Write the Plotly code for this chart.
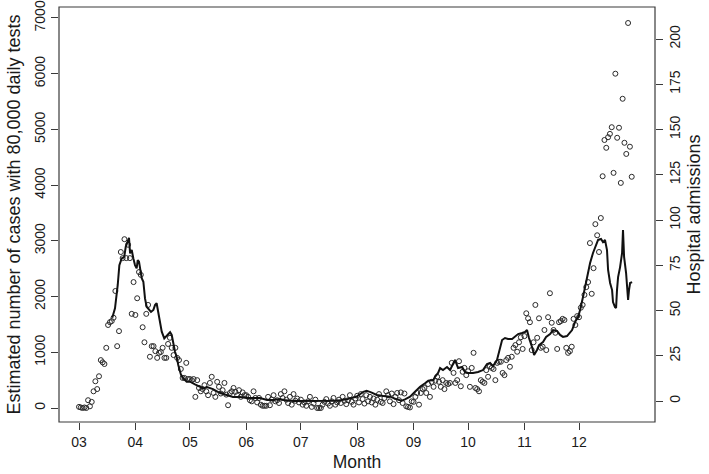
import plotly.graph_objects as go
import numpy as np

# x axis: days since 1 March 2020 (month starts give the tick positions)
month_starts = [0, 31, 61, 92, 122, 153, 184, 214, 245, 275]
month_labels = ["03", "04", "05", "06", "07", "08", "09", "10", "11", "12"]

# Estimated number of cases with 80,000 daily tests (daily points, left axis)
cases_mar = [20, 10, 0, 10, 0, 140, 30, 110, 300, 480, 340, 570, 860, 820, 790, 1080,
             1490, 1540, 1560, 1620, 2100, 1110, 1380, 2800, 2690, 3030, 2690, 2930,
             2690, 1690, 2260]
cases_apr = [1670, 1970, 2440, 2390, 1450, 1180, 1690, 1850, 920, 1110, 1110, 1020, 900,
             990, 1005, 1080, 900, 900, 1150, 1260, 1080, 950, 1080, 900, 860, 700, 540,
             540, 810, 520]
cases_may = [520, 500, 520, 200, 500, 360, 300, 340, 410, 300, 230, 450, 560, 270, 200,
             470, 380, 260, 320, 450, 240, 50, 270, 300, 360, 290, 230, 320, 200, 280, 230]
cases_jun = [230, 200, 140, 120, 300, 180, 100, 180, 60, 40, 40, 40, 200, 50, 150, 230,
             120, 140, 90, 250, 180, 300, 150, 90, 200, 60, 250, 130, 170, 100]
cases_jul = [150, 60, 100, 40, 120, 200, 20, 80, 150, 0, 0, 0, 60, 110, 160, 80, 40, 120,
             180, 60, 100, 150, 90, 200, 130, 70, 140, 230, 110, 60, 170]
cases_aug = [220, 100, 250, 160, 80, 230, 120, 200, 100, 170, 60, 150, 250, 110, 90, 180,
             300, 230, 120, 260, 70, 200, 270, 140, 280, 90, 260, 30, 20, 10, 120]
cases_sep = [110, 200, 270, 60, 270, 340, 360, 270, 430, 200, 470, 380, 490, 560, 470, 380,
             500, 340, 450, 430, 450, 810, 630, 450, 500, 840, 390, 650, 720, 590]
cases_oct = [660, 380, 720, 990, 360, 340, 300, 500, 470, 450, 680, 560, 750, 720, 700, 500,
             810, 830, 830, 630, 590, 860, 900, 740, 920, 1080, 1130, 1010, 1180, 1270, 1060]
cases_nov = [1290, 1700, 1610, 1540, 1040, 1180, 1850, 1260, 1610, 1080, 1100, 1400, 1040,
             1630, 2060, 1530, 1400, 1350, 1060, 1540, 1560, 1600, 1580, 1080, 990, 1020,
             1100, 1600, 1490, 1650]
cases_dec = [1630, 1800, 1850, 2030, 2170, 2260, 2960, 2050, 2510, 3300, 3100, 2800, 3410,
             4160, 4810, 4670, 4860, 4920, 5040, 4220, 6000, 4850, 5030, 4040, 5550, 4760,
             4560, 6910, 4690, 4150]

cases = (cases_mar + cases_apr + cases_may + cases_jun + cases_jul + cases_aug +
         cases_sep + cases_oct + cases_nov + cases_dec)
case_days = list(range(len(cases)))

# Hospital admissions (line, right axis)
adm_days = [18.3, 19.8, 21.3, 22.2, 23.5, 24.9, 25.7, 26.8, 27.5, 28.1,
            29.0, 29.9, 30.8, 31.7, 32.3, 33.0, 33.9, 34.5, 35.4, 36.3,
            37.2, 38.1, 39.6, 40.9, 41.8, 42.7, 43.6, 44.6, 45.5, 46.9,
            48.8, 50.1, 51.0, 51.9, 52.8, 53.7, 54.6, 56.1, 57.4, 59.2,
            61.1, 63.8, 66.6, 68.4, 70.4, 73.7, 77.6, 81.4, 84.7, 88.6,
            92.4, 95.7, 99.6, 103.4, 106.7, 110.6, 112.4, 117.9, 121.6, 125.2,
            130.7, 136.2, 141.7, 147.2, 152.7, 156.4, 158.2, 161.0, 163.8, 167.4,
            171.1, 174.8, 177.5, 179.3, 182.1, 184.8, 187.6, 190.3, 192.1, 194.9,
            195.8, 197.5, 198.6, 200.2, 202.4, 204.1, 205.7, 206.8, 208.5, 210.7,
            212.3, 214.0, 216.7, 219.5, 222.2, 224.4, 226.1, 227.7, 229.9, 231.6,
            232.7, 234.3, 236.0, 238.2, 239.8, 241.5, 243.7, 245.3, 246.4, 247.5,
            249.2, 250.3, 251.9, 253.0, 255.2, 256.9, 259.1, 260.7, 262.9, 264.6,
            266.2, 268.4, 271.2, 272.8, 274.5, 275.6, 277.2, 279.4, 281.1, 282.7,
            284.4, 285.5, 287.1, 288.2, 289.3, 290.4, 291.0, 292.1, 293.2, 293.7,
            294.8, 295.4, 295.9, 296.5, 297.6, 298.7, 299.2, 299.8, 300.9, 301.4,
            302.0, 302.5, 303.1, 304.2]
adm_vals = [46.0, 51.2, 64.1, 75.1, 78.8, 79.7, 85.2, 89.0, 90.2, 81.6,
            83.4, 78.8, 75.1, 73.3, 77.9, 77.0, 71.4, 67.8, 65.9, 56.7,
            52.1, 51.2, 49.3, 50.3, 53.0, 54.0, 49.3, 42.0, 38.3, 34.6,
            36.9, 38.0, 36.5, 30.9, 27.2, 24.5, 19.9, 14.4, 12.5, 10.7,
            10.7, 9.2, 7.9, 7.0, 7.7, 6.6, 4.4, 3.3, 2.2, 2.2,
            1.7, 1.7, 1.7, 0.6, 0.6, 1.1, 0.6, 0.0, 0.0, 0.0,
            0.0, 0.0, 0.2, 0.9, 2.4, 5.1, 5.7, 4.6, 3.3, 2.8,
            2.4, 0.9, 0.2, 0.9, 2.4, 5.1, 7.9, 9.8, 11.2, 11.6,
            13.4, 15.5, 18.2, 17.1, 18.8, 17.1, 21.0, 22.7, 18.2, 18.8,
            16.0, 15.5, 15.5, 16.0, 17.1, 20.4, 21.0, 19.3, 22.7, 29.3,
            33.7, 34.8, 34.3, 34.3, 35.4, 37.0, 37.6, 38.1, 39.2, 34.8,
            29.8, 25.4, 28.2, 30.9, 32.6, 35.4, 37.0, 39.2, 38.7, 36.5,
            35.4, 35.9, 39.2, 43.6, 46.4, 50.3, 57.5, 68.5, 76.2, 81.8,
            86.2, 89.0, 89.5, 87.8, 89.0, 83.4, 72.4, 65.2, 61.3, 54.7,
            51.9, 51.4, 61.3, 68.5, 74.0, 81.8, 94.5, 79.6, 70.7, 61.3,
            55.8, 61.3, 65.2, 65.7]

left_ticks = [0, 1000, 2000, 3000, 4000, 5000, 6000, 7000]
right_ticks = [0, 25, 50, 75, 100, 125, 150, 175, 200]

FONT = "Liberation Sans, Arial, Helvetica, sans-serif"
INK = "#1a1a1a"
AXC = "#3a3a3a"

fig = go.Figure()
fig.add_trace(go.Scatter(
    x=case_days, y=cases, mode="markers", yaxis="y",
    marker=dict(symbol="circle-open", size=5, color="#2a2a2a", line=dict(width=1, color="#2a2a2a")),
    showlegend=False, hoverinfo="skip"))
fig.add_trace(go.Scatter(
    x=adm_days, y=adm_vals, mode="lines", yaxis="y2",
    line=dict(color="#111111", width=2),
    showlegend=False, hoverinfo="skip"))

fig.update_layout(
    width=709, height=474,
    margin=dict(l=59, r=54, t=7, b=52, autoexpand=False),
    paper_bgcolor="white", plot_bgcolor="white",
    font=dict(family=FONT, size=13, color=INK),
    xaxis=dict(
        range=[-11.0, 316.8], tickmode="array", tickvals=month_starts, ticktext=month_labels,
        ticks="outside", ticklen=7, tickwidth=1, tickcolor=AXC, automargin=False,
        showgrid=False, zeroline=False, showline=False,
        tickfont=dict(size=14, family=FONT, color=INK),
        title=dict(text="Month", font=dict(size=17.5, family=FONT, color=INK), standoff=6),
    ),
    yaxis=dict(
        range=[-251, 7197], tickmode="array", tickvals=left_ticks,
        ticks="outside", ticklen=7, tickwidth=1, tickcolor=AXC, tickangle=-90, automargin=False,
        showgrid=False, zeroline=False, showline=False,
        tickfont=dict(size=14, family=FONT, color=INK),
        title=dict(text="Estimated number of cases with 80,000 daily tests",
                   font=dict(size=18, family=FONT, color=INK), standoff=7),
    ),
    yaxis2=dict(
        range=[-11.6, 217.7], tickmode="array", tickvals=right_ticks,
        overlaying="y", side="right", automargin=False,
        ticks="outside", ticklen=7, tickwidth=1, tickcolor=AXC, tickangle=-90,
        showgrid=False, zeroline=False, showline=False,
        tickfont=dict(size=14, family=FONT, color=INK),
        title=dict(text="Hospital admissions", font=dict(size=18, family=FONT, color=INK), standoff=5),
    ),
    shapes=[dict(type="rect", xref="paper", yref="paper", x0=0, x1=1, y0=0, y1=1,
                 line=dict(color=AXC, width=1.2), fillcolor="rgba(0,0,0,0)", layer="above")],
)

fig.write_html("out.html", config={"displayModeBar": False, "staticPlot": True},
               post_script="document.body.style.margin='0px';")
